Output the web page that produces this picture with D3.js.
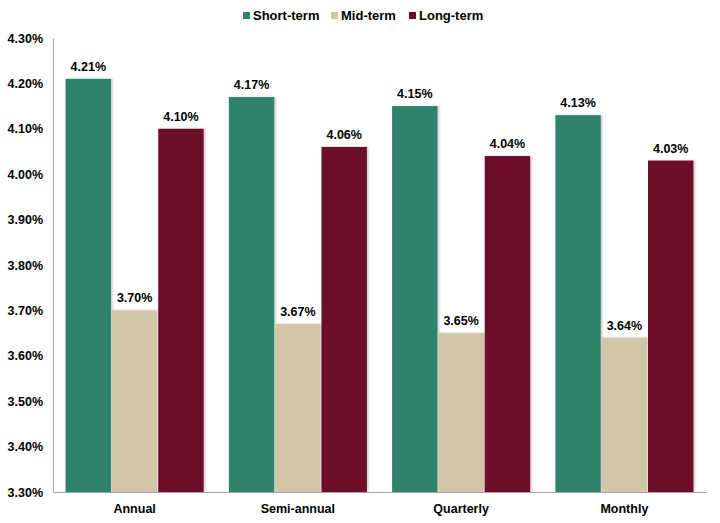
<!DOCTYPE html>
<html><head><meta charset="utf-8">
<script src="https://cdn.jsdelivr.net/npm/d3@7"></script>
<style>body{margin:0;background:#fff;} text{font-family:"Liberation Sans",Arial,sans-serif;font-weight:bold;fill:#000;}</style>
</head><body><svg id="c" width="720" height="523"></svg>
<script>
const categories = ["Annual","Semi-annual","Quarterly","Monthly"];
const seriesNames = ["Short-term","Mid-term","Long-term"];
const shortTerm = [4.21,4.17,4.15,4.13];
const midTerm = [3.70,3.67,3.65,3.64];
const longTerm = [4.10,4.06,4.04,4.03];
const yTicks = [3.3,3.4,3.5,3.6,3.7,3.8,3.9,4.0,4.1,4.2,4.3];
const colors = ["#2E836A","#D1C6A8","#6C0B2B"];
const series = [shortTerm, midTerm, longTerm];

const svg = d3.select("#c");
const m = {l:53, r:14, t:38, b:31};
const W = 720, H = 523;
const x = d3.scaleBand().domain(categories).range([m.l, W-m.r]).paddingInner(0).paddingOuter(0);
const edge = 12.6;
const x1 = d3.scaleBand().domain(seriesNames).range([edge, x.bandwidth()-edge]).paddingOuter(0).paddingInner(0.02);
const y = d3.scaleLinear().domain([3.3,4.3]).range([H-m.b, m.t]);

const defs = svg.append("defs");
const f = defs.append("filter").attr("id","sh").attr("x","-10%").attr("y","-10%").attr("width","130%").attr("height","130%");
f.append("feDropShadow").attr("dx",1.5).attr("dy",0).attr("stdDeviation",1).attr("flood-color","#000").attr("flood-opacity",0.22);

const g = svg.append("g");
seriesNames.forEach((s, si) => {
  categories.forEach((c, ci) => {
    const v = series[si][ci];
    const bx = x(c) + x1(s);
    g.append("rect").attr("x", bx).attr("y", y(v)).attr("width", x1.bandwidth()).attr("height", y(3.3)-y(v))
      .attr("fill", colors[si]).attr("filter","url(#sh)");
    g.append("text").attr("x", bx + x1.bandwidth()/2).attr("y", y(v)-8).attr("text-anchor","middle")
      .attr("font-size",12.5).text(v.toFixed(2)+"%");
  });
});

// axes
const ya = svg.append("g").attr("transform",`translate(${m.l},0)`)
  .call(d3.axisLeft(y).tickValues(yTicks).tickFormat(d=>d.toFixed(2)+"%").tickSize(0).tickPadding(10));
ya.select(".domain").attr("stroke","#a6a6a6");
ya.selectAll("text").attr("font-size",12.5).style("font-family","Liberation Sans, Arial").style("font-weight","bold");
const xa = svg.append("g").attr("transform",`translate(0,${H-m.b})`)
  .call(d3.axisBottom(x).tickSize(0).tickPadding(12));
xa.select(".domain").attr("stroke","#a6a6a6");
xa.selectAll("text").attr("font-size",12.5).style("font-family","Liberation Sans, Arial").style("font-weight","bold");

// legend
const legX = [243, 331, 409];
const leg = svg.append("g");
seriesNames.forEach((s,i)=>{
  leg.append("rect").attr("x",legX[i]).attr("y",12).attr("width",7).attr("height",7).attr("fill",colors[i]);
  leg.append("text").attr("x",legX[i]+10).attr("y",20).attr("font-size",13).text(s);
});
</script></body></html>
